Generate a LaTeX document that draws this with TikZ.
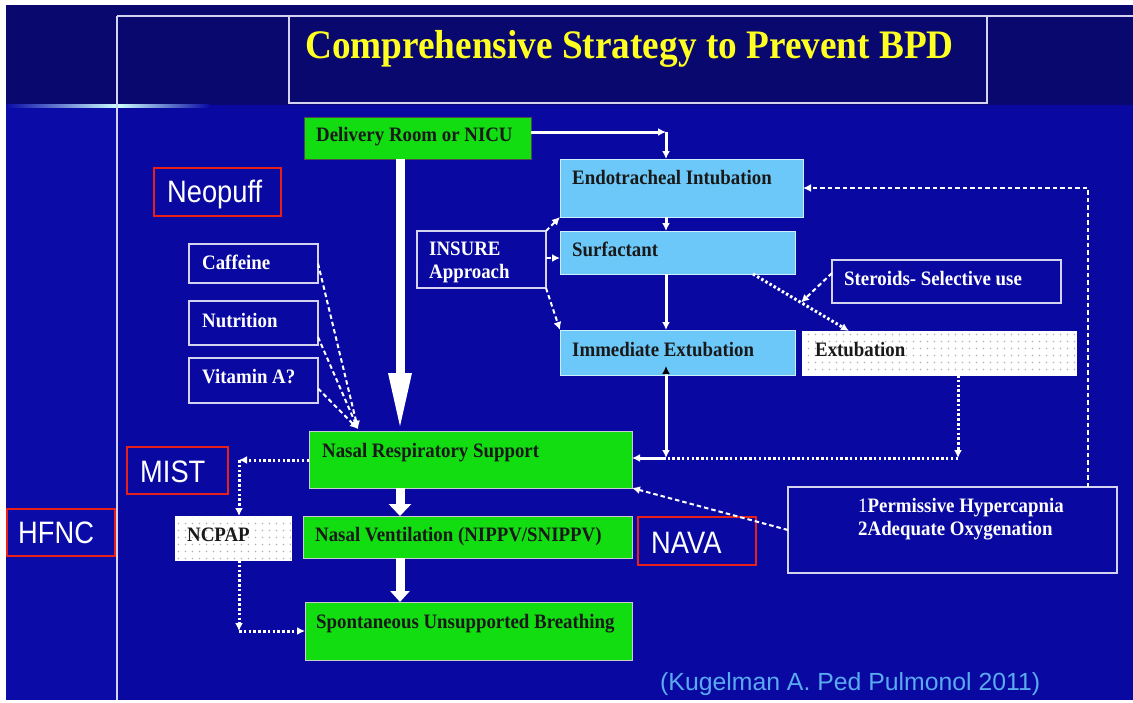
\documentclass[tikz,border=0pt]{standalone}
\usepackage{fontspec}
\setmainfont[FakeStretch=0.92]{Liberation Serif}
\newfontfamily\labfont[FakeStretch=0.88]{Liberation Sans}
\newfontfamily\citefont{Liberation Sans}
\usetikzlibrary{arrows.meta,calc,patterns.meta}
\definecolor{bgtop}{HTML}{08086E}
\definecolor{bgmain}{HTML}{0909A2}
\definecolor{bgleft}{HTML}{0B0BA8}
\definecolor{gfill}{HTML}{11DD11}
\definecolor{bfill}{HTML}{6CC8F8}
\definecolor{redb}{HTML}{E8201A}
\definecolor{lineW}{HTML}{D4D4F0}
\definecolor{ttl}{HTML}{FFFF22}
\definecolor{citec}{HTML}{5AAAF0}
\tikzdeclarepattern{
  name=sparsedots,
  type=uncolored,
  bottom left={(-.1pt,-.1pt)},
  top right={(7.1pt,7.1pt)},
  tile size={(7pt,7pt)},
  code={\fill (3.5pt,3.5pt) circle (0.8pt);}
}
\tikzset{
  boxbase/.style={rectangle, inner sep=0pt, outer sep=0pt, anchor=north west},
  gbox/.style={boxbase, fill=gfill, draw=gray!40, line width=1pt},
  bbox/.style={boxbase, fill=bfill, draw=white!80!cyan, line width=1pt},
  obox/.style={boxbase, draw=lineW, line width=1.6pt},
  rbox/.style={boxbase, draw=redb, line width=2.6pt},
  dbox/.style={boxbase, draw=white, line width=1pt, preaction={fill=white}, pattern=sparsedots, pattern color=gray!60},
  btxt/.style={anchor=base west, inner sep=0pt, text=black!90, font=\fontsize{20.5}{24}\selectfont\bfseries},
  wtxt/.style={btxt, text=white},
  ltxt/.style={anchor=base west, inner sep=0pt, text=white, font=\labfont\fontsize{31}{35}\selectfont},
  arr/.style={-{Latex[length=8pt,width=8pt]}},
  solidline/.style={draw=white, line width=3pt},
  dashline/.style={draw=white, line width=2pt, dash pattern=on 4.5pt off 3pt},
  dotline/.style={draw=white, line width=3pt, dash pattern=on 2.5pt off 2.3pt},
  blockarrow/.style={draw=white, line width=9pt}
}
\begin{document}
\begin{tikzpicture}[x=1pt,y=-1pt]
\useasboundingbox (0,0) rectangle (1133,702);
% background
\fill[white] (0,0) rectangle (1133,702);
\fill[bgmain] (6,5) rectangle (1133,700);
\fill[bgtop] (6,5) rectangle (1133,105);
\fill[bgleft] (6,105) rectangle (117,700);
\shade[left color=bgleft, right color=white!80!cyan] (6,104.5) rectangle (118,107);
\shade[left color=white!80!cyan, right color=bgmain] (118,104.5) rectangle (210,107);
\draw[lineW, line width=1.5pt] (117,16) -- (117,700);
\draw[lineW, line width=1.5pt] (117,16) -- (1133,16);
% title
\node[boxbase, draw=lineW, line width=1.5pt, minimum width=698pt, minimum height=87pt] (tbox) at (289,16) {};
\node[anchor=base west, inner sep=0pt, text=ttl, font=\fontsize{40.5}{46}\selectfont\bfseries] (title) at (305,58) {Comprehensive Strategy to Prevent BPD};
% boxes
\node[gbox, draw=black!70, minimum width=227pt, minimum height=42pt] (dr) at (304,117) {};
\node[btxt] (drt) at (316,141) {Delivery Room or NICU};
\node[bbox, minimum width=243pt, minimum height=58pt] (ei) at (560,159) {};
\node[btxt] (eit) at (572,184) {Endotracheal Intubation};
\node[bbox, minimum width=235pt, minimum height=43pt] (surf) at (560,231) {};
\node[btxt] (surft) at (572,256) {Surfactant};
\node[bbox, minimum width=235pt, minimum height=45pt] (ie) at (560,330) {};
\node[btxt] (iet) at (572,356) {Immediate Extubation};
\node[dbox, minimum width=274pt, minimum height=44pt] (ext) at (802,331) {};
\node[btxt] (extt) at (815,356) {Extubation};
\node[obox, minimum width=229pt, minimum height=43pt] (ster) at (832,260) {};
\node[wtxt] (stert) at (844,285) {Steroids- Selective use};
\node[obox, minimum width=129pt, minimum height=57pt] (ins) at (417,231) {};
\node[wtxt] (inst1) at (429,255) {INSURE};
\node[wtxt] (inst2) at (429,278) {Approach};
\node[rbox, minimum width=127pt, minimum height=48pt] (neo) at (154,168) {};
\node[ltxt] (neot) at (167,202) {Neopuff};
\node[obox, minimum width=129pt, minimum height=39pt] (caf) at (189,244) {};
\node[wtxt] (caft) at (202,269) {Caffeine};
\node[obox, minimum width=129pt, minimum height=44pt] (nut) at (189,301) {};
\node[wtxt] (nutt) at (202,327) {Nutrition};
\node[obox, minimum width=129pt, minimum height=45pt] (vit) at (189,358) {};
\node[wtxt] (vitt) at (202,383) {Vitamin A?};
\node[gbox, minimum width=323pt, minimum height=57pt] (nrs) at (309,431) {};
\node[btxt] (nrst) at (322,457) {Nasal Respiratory Support};
\node[rbox, minimum width=101pt, minimum height=47pt] (mist) at (127,447) {};
\node[ltxt] (mistt) at (140,482) {MIST};
\node[rbox, minimum width=108pt, minimum height=47pt] (hfnc) at (7,509) {};
\node[ltxt] (hfnct) at (18,543) {HFNC};
\node[dbox, minimum width=116pt, minimum height=44pt] (ncpap) at (175,516) {};
\node[btxt] (ncpapt) at (187,541) {NCPAP};
\node[gbox, minimum width=329pt, minimum height=42pt] (nv) at (303,516) {};
\node[btxt] (nvt) at (315,541) {Nasal Ventilation (NIPPV/SNIPPV)};
\node[rbox, minimum width=118pt, minimum height=48pt] (nava) at (638,517) {};
\node[ltxt] (navat) at (651,553) {NAVA};
\node[gbox, minimum width=327pt, minimum height=58pt] (sub) at (305,602) {};
\node[btxt] (subt) at (316,628) {Spontaneous Unsupported Breathing};
\node[obox, minimum width=329pt, minimum height=86pt] (perm) at (788,487) {};
\node[wtxt] (perm1) at (858,512) {{\mdseries 1}Permissive Hypercapnia};
\node[wtxt] (perm2) at (858,535) {2Adequate Oxygenation};
\node[anchor=base west, inner sep=0pt, text=citec, font=\citefont\fontsize{24.8}{28}\selectfont] (cit) at (660,690) {(Kugelman A. Ped Pulmonol 2011)};
% connectors
\coordinate (k1) at (666,132);
\draw[solidline,arr] ($(dr.north east)+(0,15)$) -- (k1);
\draw[solidline,arr] (k1) -- (k1 |- ei.north);
\draw[solidline,arr] (ei.south -| k1) -- (surf.north -| k1);
\draw[solidline,arr] (surf.south -| k1) -- (ie.north -| k1);
\draw[dashline,arr] (ins.north east) -- (ei.south west);
\draw[dashline,arr] ($(ins.north east)+(0,27)$) -- ($(surf.north west)+(0,27)$);
\draw[dashline,arr] (ins.south east) -- (ie.north west);
\coordinate (s7a) at ($(surf.south west)+(193,0)$);
\coordinate (s7b) at ($(ext.north west)+(47,0)$);
\draw[dotline,arr] (s7a) -- (s7b);
\draw[dashline,arr] ($(ster.north west)+(0,13)$) -- ($(s7a)!0.5!(s7b)$);
\draw[dashline,arr] ($(perm.north west)+(300,0)$) |- (ei.east);
\draw[dashline,arr] (perm.west) -- (nrs.south east);
\coordinate (j) at (666,458);
\draw[solidline,{Latex[black,length=8pt,width=8pt]}-{Latex[length=8pt,width=8pt]},shorten <=-9pt] (ie.south -| k1) -- (j);
\draw[solidline,arr] (j) -- (nrs.east |- j);
\coordinate (k3) at (958,458);
\draw[dotline,arr] (ext.south -| k3) -- (k3);
\draw[dotline] (k3) -- (j);
\coordinate (k4) at (358,429);
\draw[dashline,arr] (caf.east) -- (k4);
\draw[dashline,arr] ($(nut.south east)+(0,-8)$) -- (k4);
\draw[dashline,arr] ($(vit.east)+(0,8)$) -- (k4);
\coordinate (c1) at (239,460);
\draw[dotline,arr] (nrs.west |- c1) -- (c1);
\draw[dotline,arr] (c1) -- (c1 |- ncpap.north);
\coordinate (c2) at (239,631);
\draw[dotline,arr] (ncpap.south -| c2) -- (c2);
\draw[dotline,arr] (c2) -- (sub.west |- c2);
\draw[blockarrow,-{Triangle[length=58pt,width=21pt]}] ($(dr.south west)+(96,0)$) -- ($(nrs.north west)+(91,0)$);
\draw[blockarrow,-{Triangle[length=12pt,width=22pt]}] ($(nrs.south west)+(91,0)$) -- ($(nv.north west)+(97,0)$);
\draw[blockarrow,-{Triangle[length=11pt,width=19pt]}] ($(nv.south west)+(97,0)$) -- ($(sub.north west)+(95,0)$);
\end{tikzpicture}
\end{document}
